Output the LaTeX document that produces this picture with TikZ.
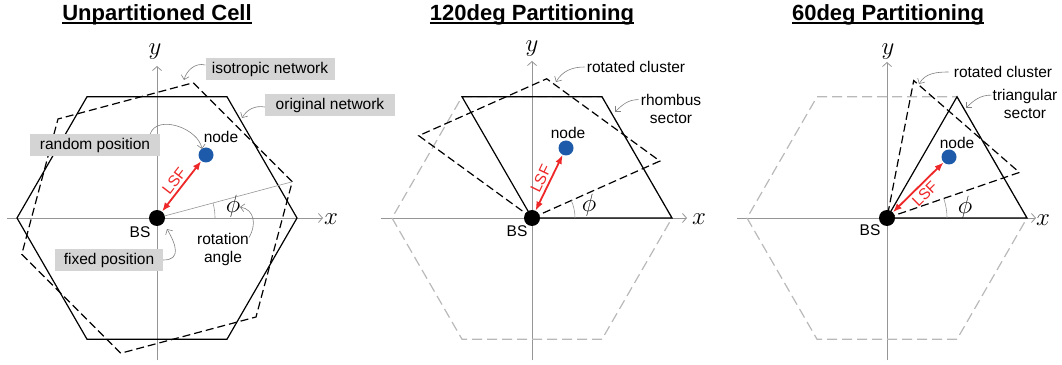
\documentclass[tikz,border=0pt]{standalone}
\usepackage{fontspec}
\setmainfont{Liberation Sans}
\usetikzlibrary{arrows.meta}
\definecolor{boxgray}{RGB}{212,212,212}
\definecolor{axisgray}{RGB}{150,150,150}
\definecolor{cellgray}{RGB}{185,185,185}
\definecolor{nodeblue}{RGB}{30,90,170}
\definecolor{lsfred}{RGB}{238,40,40}
\tikzset{
  axisline/.style={draw=axisgray, line width=0.8pt, -{Straight Barb[length=4pt,width=9pt]}},
  cellline/.style={draw=black, line width=1.2pt, line join=miter},
  rotline/.style={draw=black, line width=1.2pt, dash pattern=on 8pt off 4pt},
  fullline/.style={draw=cellgray, line width=1.2pt, dash pattern=on 10pt off 5pt},
  ttl/.style={font=\fontsize{22}{26}\selectfont\bfseries, inner sep=0pt, anchor=base},
  ulin/.style={line width=2pt},
  lbl/.style={font=\fontsize{15.5}{18}\selectfont, inner sep=0pt},
  graybox/.style={lbl, fill=boxgray, minimum height=22pt},
  calloutarr/.style={draw=gray, line width=0.6pt, -{Straight Barb[length=4pt,width=8pt]}},
  bsdot/.style={circle, fill=black, minimum size=16pt, inner sep=0pt},
  usrdot/.style={circle, fill=nodeblue, minimum size=15pt, inner sep=0pt},
  lsfarr/.style={draw=lsfred, line width=1.8pt, {Latex[length=9pt,width=7pt]}-{Latex[length=9pt,width=7pt]}},
  lsftext/.style={lbl, text=lsfred, sloped},
  mathlbl/.style={font=\fontsize{24}{28}\selectfont, inner sep=0pt},
  angarc/.style={draw=axisgray, line width=0.6pt},
}
\begin{document}
\begin{tikzpicture}[x=1pt,y=1pt]
\useasboundingbox (0,0) rectangle (1062,364);

% ---------------- Titles ----------------
\node[ttl] (t1) at (157,343) {Unpartitioned Cell};
\node[ttl] (t2) at (532,343) {120deg Partitioning};
\node[ttl] (t3) at (888,343) {60deg Partitioning};
\foreach \t in {t1,t2,t3}
  \draw[ulin] ([yshift=-2.5pt]\t.base west) -- ([yshift=-2.5pt]\t.base east);

% ---------------- Panel A ----------------
\begin{scope}[shift={(157,146)}]
  \draw[axisline] (-150,0) -- (166,0);
  \draw[axisline] (0,-142) -- (0,152);
  \node[mathlbl] (a-x) at (174,-1) {$x$};
  \node[mathlbl] (a-y) at (-2,166) {$y$};
  \draw[cellline] (0:140) -- (60:140) -- (120:140) -- (180:140) -- (240:140) -- (300:140) -- cycle;
  \draw[rotline] (15:140) -- (75:140) -- (135:140) -- (195:140) -- (255:140) -- (315:140) -- cycle;
  \node[bsdot] (a-bs) at (0,0) {};
  \node[usrdot] (a-nd) at (49,63) {};
  \coordinate (a-v) at (15:140);
  \draw[draw=axisgray, line width=0.6pt] (a-bs) -- (a-v);
  \draw[angarc] (58,0) arc[start angle=0, end angle=15, radius=58];
  \node[mathlbl] (a-phi) at (76,12) {$\phi$};
  \node[lbl] (a-ndl) at (64,81) {node};
  \node[lbl] (a-bsl) at (-17,-14) {BS};
  \draw[lsfarr] (a-bs) -- node[lsftext, above=3pt] {LSF} (a-nd);
  \node[graybox, minimum width=129pt] (a-iso) at (113,149) {isotropic network};
  \node[graybox, minimum width=130pt] (a-orig) at (173,113) {original network};
  \node[graybox, minimum width=130pt] (a-rand) at (-62,73) {random position};
  \node[graybox, minimum width=108pt] (a-fix) at (-48,-42) {fixed position};
  \node[lbl, align=center] (a-rot) at (66,-31) {rotation\\angle};
  \coordinate (a-isotip) at (27,138);
  \coordinate (a-origtip) at (85,100);
  \coordinate (a-randtip) at (45,69);
  \coordinate (a-fixtip) at (10,-11);
  \coordinate (a-rottip) at (83,11);
  \draw[calloutarr] ([yshift=4pt]a-iso.west) to[out=165,in=75] (a-isotip);
  \draw[calloutarr] ([yshift=-2pt]a-orig.west) to[out=170,in=60] (a-origtip);
  \draw[calloutarr] ([xshift=-10pt]a-rand.north east) to[out=70,in=100] (a-randtip);
  \draw[calloutarr] (a-fix.east) to[out=0,in=-60,looseness=1.5] (a-fixtip);
  \draw[calloutarr] ([yshift=-5pt]a-rot.north east) to[out=60,in=-10,looseness=1.2] (a-rottip);
\end{scope}

% ---------------- Panel B ----------------
\begin{scope}[shift={(532,146)}]
  \draw[axisline] (-151,0) -- (155,0);
  \draw[axisline] (0,-142) -- (0,157);
  \node[mathlbl] (b-x) at (167,-1) {$x$};
  \node[mathlbl] (b-y) at (0,169) {$y$};
  \draw[fullline] (0:140) -- (60:140) -- (120:140) -- (180:140) -- (240:140) -- (300:140) -- cycle;
  \draw[rotline] (0,0) -- (24:140) -- (84:140) -- (144:140) -- cycle;
  \draw[cellline] (0,0) -- (0:140) -- (60:140) -- (120:140) -- cycle;
  \draw[angarc] (43,0) arc[start angle=0, end angle=24, radius=43];
  \node[mathlbl] (b-phi) at (57,13) {$\phi$};
  \node[bsdot] (b-bs) at (0,0) {};
  \node[usrdot] (b-nd) at (34,70) {};
  \node[lbl] (b-ndl) at (36,85) {node};
  \node[lbl] (b-bsl) at (-15,-13) {BS};
  \draw[lsfarr] (b-bs) -- node[lsftext, above=3pt] {LSF} (b-nd);
  \node[lbl] (b-rc) at (104,151) {rotated cluster};
  \node[lbl, align=center] (b-rh) at (139,109.5) {rhombus\\sector};
  \coordinate (b-rctip) at (24,136);
  \coordinate (b-rhtip) at (83,106);
  \draw[calloutarr] ([xshift=-2pt]b-rc.west) to[out=180,in=60] (b-rctip);
  \draw[calloutarr] ([yshift=-6pt,xshift=-2pt]b-rh.north west) to[out=180,in=45] (b-rhtip);
\end{scope}

% ---------------- Panel C ----------------
\begin{scope}[shift={(887,146)}]
  \draw[axisline] (-150,0) -- (149,0);
  \draw[axisline] (0,-142) -- (0,156);
  \node[mathlbl] (c-x) at (156,-2) {$x$};
  \node[mathlbl] (c-y) at (1,166) {$y$};
  \draw[fullline] (0:140) -- (60:140) -- (120:140) -- (180:140) -- (240:140) -- (300:140) -- cycle;
  \draw[rotline] (0,0) -- (19:140) -- (79:140) -- cycle;
  \draw[cellline] (0,0) -- (0:140) -- (60:140) -- cycle;
  \draw[angarc] (60,0) arc[start angle=0, end angle=19, radius=60];
  \node[mathlbl] (c-phi) at (78,11) {$\phi$};
  \node[bsdot] (c-bs) at (0,0) {};
  \node[usrdot] (c-nd) at (62,61) {};
  \node[lbl] (c-ndl) at (70,75) {node};
  \node[lbl] (c-bsl) at (-17,-12) {BS};
  \draw[lsfarr] (c-bs) -- node[lsftext, below=3pt] {LSF} (c-nd);
  \node[lbl] (c-rc) at (116,146) {rotated cluster};
  \node[lbl, align=center] (c-tri) at (138,114) {triangular\\sector};
  \coordinate (c-rctip) at (32,134);
  \coordinate (c-tritip) at (79,110);
  \draw[calloutarr] ([xshift=-5pt]c-rc.west) to[out=180,in=60] (c-rctip);
  \draw[calloutarr] ([yshift=-6pt,xshift=-1pt]c-tri.north west) to[out=180,in=45] (c-tritip);
\end{scope}
\end{tikzpicture}
\end{document}
